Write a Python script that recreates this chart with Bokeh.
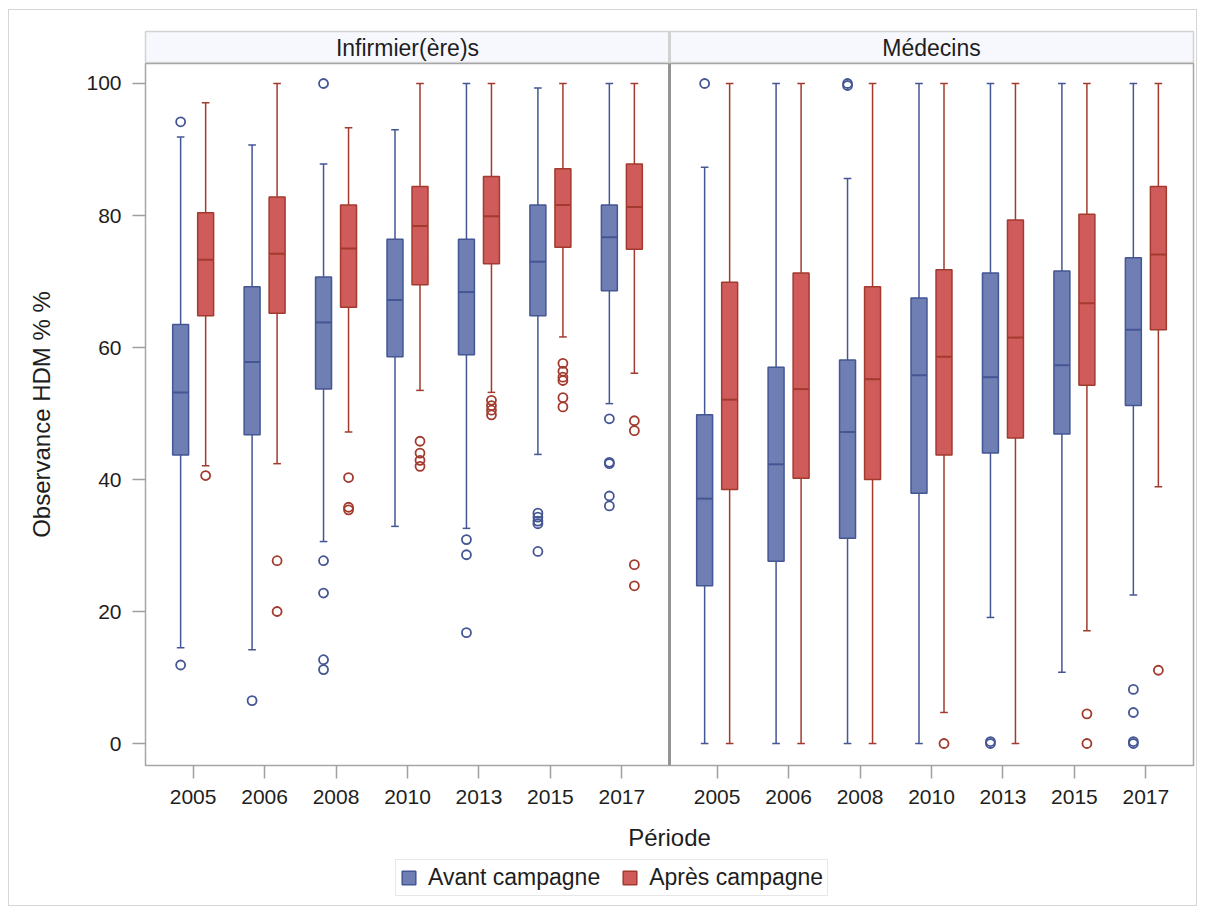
import numpy as np
from bokeh.plotting import figure
from bokeh.layouts import column
from bokeh.models import (ColumnDataSource, Range1d, FixedTicker, Legend,
                          LegendItem)
from bokeh.core.properties import value
from bokeh.embed import file_html
from bokeh.resources import INLINE

periods = ["2005", "2006", "2008", "2010", "2013", "2015", "2017"]
panels = ["Infirmier(ère)s", "Médecins"]
series = ["Avant campagne", "Après campagne"]

# Infirmier(ère)s - avant campagne
inf_avant_low = [14.5, 14.2, 30.6, 32.9, 32.6, 43.8, 51.5]
inf_avant_q1 = [43.7, 46.8, 53.7, 58.6, 58.9, 64.8, 68.6]
inf_avant_med = [53.2, 57.8, 63.8, 67.2, 68.4, 73.0, 76.7]
inf_avant_q3 = [63.5, 69.2, 70.7, 76.4, 76.4, 81.6, 81.6]
inf_avant_high = [91.9, 90.7, 87.8, 93.0, 100.0, 99.3, 100.0]
inf_avant_out = [[94.2, 11.9], [6.5], [100.0, 27.7, 22.8, 12.7, 11.2], [],
                 [30.9, 28.6, 16.8], [34.9, 34.3, 33.7, 33.3, 29.1],
                 [49.2, 42.6, 42.4, 37.5, 36.0]]

# Infirmier(ère)s - après campagne
inf_apres_low = [42.1, 42.4, 47.2, 53.5, 53.2, 61.6, 56.1]
inf_apres_q1 = [64.8, 65.2, 66.1, 69.5, 72.7, 75.2, 74.9]
inf_apres_med = [73.3, 74.2, 75.0, 78.4, 79.9, 81.6, 81.3]
inf_apres_q3 = [80.4, 82.8, 81.6, 84.4, 85.9, 87.1, 87.8]
inf_apres_high = [97.1, 100.0, 93.3, 100.0, 100.0, 100.0, 100.0]
inf_apres_out = [[40.6], [27.7, 20.0], [40.3, 35.8, 35.4],
                 [45.8, 44.0, 42.9, 42.0], [52.0, 51.2, 50.5, 49.8],
                 [57.6, 56.4, 55.5, 55.0, 52.4, 51.0],
                 [48.9, 47.4, 27.1, 23.9]]

# Médecins - avant campagne
med_avant_low = [0.0, 0.0, 0.0, 0.0, 19.1, 10.8, 22.5]
med_avant_q1 = [23.9, 27.6, 31.1, 37.9, 44.0, 46.9, 51.2]
med_avant_med = [37.1, 42.3, 47.2, 55.8, 55.5, 57.3, 62.7]
med_avant_q3 = [49.8, 57.0, 58.1, 67.5, 71.3, 71.6, 73.6]
med_avant_high = [87.3, 100.0, 85.6, 100.0, 100.0, 100.0, 100.0]
med_avant_out = [[100.0], [], [100.0, 99.7], [], [0.0, 0.3], [],
                 [8.2, 4.7, 0.0, 0.3]]

# Médecins - après campagne
med_apres_low = [0.0, 0.0, 0.0, 4.7, 0.0, 17.1, 38.9]
med_apres_q1 = [38.5, 40.2, 40.0, 43.7, 46.3, 54.3, 62.7]
med_apres_med = [52.1, 53.7, 55.2, 58.6, 61.5, 66.7, 74.1]
med_apres_q3 = [69.9, 71.3, 69.2, 71.8, 79.3, 80.2, 84.4]
med_apres_high = [100.0, 100.0, 100.0, 100.0, 100.0, 100.0, 100.0]
med_apres_out = [[], [], [], [0.0], [], [4.5, 0.0], [11.1]]

fills = ["#6F7EB3", "#D05B5B"]
lines = ["#445694", "#A23A2E"]
FONT = "Liberation Sans"
TEXT = "#1E1E1E"

STEP = 3          # distance between two periods
SHIFT = 22        # start of the second panel
DODGE = 0.525     # offset of each series inside a period
BOX_W = 0.67
CAP_W = 0.32
Y0, Y1 = -3.33, 103.03

stats = {
    (0, 0): (inf_avant_low, inf_avant_q1, inf_avant_med, inf_avant_q3, inf_avant_high, inf_avant_out),
    (0, 1): (inf_apres_low, inf_apres_q1, inf_apres_med, inf_apres_q3, inf_apres_high, inf_apres_out),
    (1, 0): (med_avant_low, med_avant_q1, med_avant_med, med_avant_q3, med_avant_high, med_avant_out),
    (1, 1): (med_apres_low, med_apres_q1, med_apres_med, med_apres_q3, med_apres_high, med_apres_out),
}

x_range = Range1d(-2, 42)
panel_left = [-2, SHIFT - 2]
panel_right = [STEP * 6 + 2, SHIFT + STEP * 6 + 2]
divider = panel_right[0]


def bare_figure(frame_height, top, y_range):
    f = figure(x_range=x_range, y_range=y_range,
               frame_width=1048, frame_height=frame_height,
               min_border_left=136, min_border_right=3,
               min_border_top=top, min_border_bottom=0,
               output_backend="svg", toolbar_location=None)
    f.axis.visible = False
    f.grid.visible = False
    return f


# header strips with the panel names
head = bare_figure(32, 21, Range1d(0, 1))
head.background_fill_color = "#F7F8FE"
head.outline_line_color = "#D2D2D2"
head.outline_line_width = 1.5
head.segment(x0=[divider], y0=[0], x1=[divider], y1=[1],
             line_color="#D2D2D2", line_width=3)
head.text(x=[(l + r) / 2 for l, r in zip(panel_left, panel_right)],
          y=[0.5, 0.5], text=panels,
          text_align="center", text_baseline="middle",
          text_font=value(FONT), text_font_size="23px", text_color=TEXT)

p = figure(x_range=x_range, y_range=Range1d(Y0, Y1),
           frame_width=1048, frame_height=702,
           min_border_left=136, min_border_right=3,
           min_border_top=0, min_border_bottom=0,
           output_backend="svg", toolbar_location=None)
p.xgrid.visible = False
p.ygrid.visible = False
p.outline_line_color = "#A6A6A6"
p.outline_line_width = 1.5
p.segment(x0=[divider], y0=[Y0], x1=[divider], y1=[Y1],
          line_color="#939393", line_width=3)

for s in range(2):
    xs, low, q1, med, q3, high = [], [], [], [], [], []
    ox, oy = [], []
    for g in range(2):
        lo_, q1_, md_, q3_, hi_, out_ = stats[(g, s)]
        for i in range(len(periods)):
            x = g * SHIFT + i * STEP + (DODGE if s else -DODGE)
            xs.append(x)
            low.append(lo_[i]); q1.append(q1_[i]); med.append(md_[i])
            q3.append(q3_[i]); high.append(hi_[i])
            for v in out_[i]:
                ox.append(x)
                oy.append(v)
    xs = np.array(xs)
    src = ColumnDataSource(dict(x=xs, low=low, q1=q1, med=med, q3=q3, high=high,
                                cl=xs - CAP_W / 2, cr=xs + CAP_W / 2,
                                bl=xs - BOX_W / 2, br=xs + BOX_W / 2))
    p.segment(x0="x", y0="q3", x1="x", y1="high", source=src,
              line_color=lines[s], line_width=1.5)
    p.segment(x0="x", y0="q1", x1="x", y1="low", source=src,
              line_color=lines[s], line_width=1.5)
    p.segment(x0="cl", y0="high", x1="cr", y1="high", source=src,
              line_color=lines[s], line_width=1.5)
    p.segment(x0="cl", y0="low", x1="cr", y1="low", source=src,
              line_color=lines[s], line_width=1.5)
    p.vbar(x="x", width=BOX_W, top="q3", bottom="q1", source=src,
           fill_color=fills[s], line_color=lines[s], line_width=1.5)
    p.segment(x0="bl", y0="med", x1="br", y1="med", source=src,
              line_color=lines[s], line_width=2)
    p.scatter(x=ox, y=oy, marker="circle", size=9, fill_color=None,
              line_color=lines[s], line_width=1.8)

# axes
ticks = [g * SHIFT + i * STEP for g in range(2) for i in range(len(periods))]
p.xaxis.ticker = FixedTicker(ticks=ticks)
p.xaxis.major_label_overrides = {t: periods[k % len(periods)] for k, t in enumerate(ticks)}
p.yaxis.ticker = FixedTicker(ticks=[0, 20, 40, 60, 80, 100])
for ax in (p.xaxis, p.yaxis):
    ax.axis_line_color = None
    ax.major_tick_out = 13
    ax.major_tick_in = 0
    ax.major_tick_line_color = "#A0A0A0"
    ax.major_tick_line_width = 1.5
    ax.minor_tick_line_color = None
    ax.major_label_text_font = FONT
    ax.major_label_text_font_size = "21px"
    ax.major_label_text_color = TEXT
    ax.axis_label_text_font = FONT
    ax.axis_label_text_font_size = "24px"
    ax.axis_label_text_font_style = "normal"
    ax.axis_label_text_color = TEXT
p.xaxis.major_label_standoff = 11
p.yaxis.major_label_standoff = 11
p.xaxis.axis_label = "Période"
p.xaxis.axis_label_standoff = 17
p.yaxis.axis_label = "Observance HDM % %"
p.yaxis.axis_label_standoff = 28

# legend strip under the axis title (key glyphs only, nothing drawn in the strip)
foot = bare_figure(52, 0, Range1d(0, 1))
foot.outline_line_color = None
keys = [foot.vbar(x=np.array([np.nan]), top=np.array([np.nan]), width=1,
                  fill_color=fills[s], line_color=lines[s], line_width=1.5)
        for s in range(2)]
legend = Legend(items=[LegendItem(label=series[k], renderers=[keys[k]])
                       for k in range(2)],
                orientation="horizontal", location=(250, 9))
legend.label_text_font = FONT
legend.label_text_font_size = "23px"
legend.label_text_color = TEXT
legend.glyph_width = 17
legend.glyph_height = 17
legend.label_standoff = 11
legend.spacing = 21
legend.padding = 4
legend.margin = 0
legend.border_line_color = "#D0D0D0"
legend.border_line_width = 1.5
foot.add_layout(legend, "center")

layout = column(head, p, foot, spacing=0,
                styles={"border": "1px solid #D6D6D6", "margin-left": "8px",
                        "margin-top": "9px"})
open("out.html", "w").write(file_html(layout, INLINE))
